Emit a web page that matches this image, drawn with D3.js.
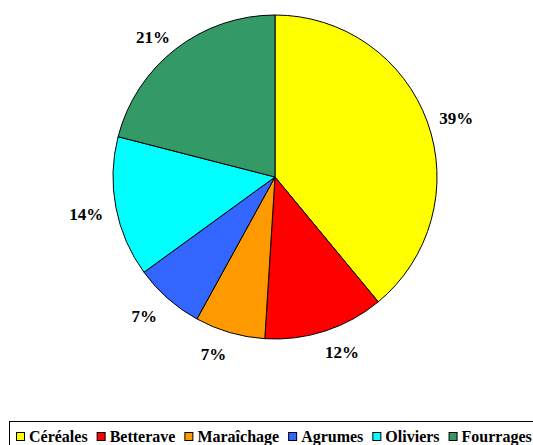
<!DOCTYPE html>
<html>
<head>
<meta charset="utf-8">
<script src="https://cdn.jsdelivr.net/npm/d3@7"></script>
<style>
  html, body { margin: 0; padding: 0; background: #fff; }
  svg { display: block; }
</style>
</head>
<body>
<svg id="chart" width="533" height="445"></svg>
<script>
// Répartition des superficies par culture (%)
const categories = ["Céréales", "Betterave", "Maraîchage", "Agrumes", "Oliviers", "Fourrages"];
const values = [39, 12, 7, 7, 14, 21];
const colors = ["#FFFF00", "#FF0000", "#FF9900", "#3366FF", "#00FFFF", "#339966"];

const svg = d3.select("#chart");
const cx = 275, cy = 177, radius = 162;
const labelRadius = 181, labelShiftX = 11, labelShiftY = 3;
const font = "Liberation Serif";

const data = categories.map((c, i) => ({ name: c, value: values[i], color: colors[i] }));

const pie = d3.pie().value(d => d.value).sort(null);
const arc = d3.arc().innerRadius(0).outerRadius(radius);
const labelArc = d3.arc().innerRadius(labelRadius).outerRadius(labelRadius);

const g = svg.append("g").attr("transform", `translate(${cx},${cy})`);
const arcs = pie(data);

g.selectAll("path.slice")
  .data(arcs)
  .join("path")
  .attr("class", "slice")
  .attr("d", arc)
  .attr("fill", d => d.data.color)
  .attr("stroke", "#000")
  .attr("stroke-width", 1);

// Étiquettes à l'extérieur, écartées horizontalement du côté de la tranche
g.selectAll("text.pct")
  .data(arcs)
  .join("text")
  .attr("class", "pct")
  .attr("transform", d => {
    const [px, py] = labelArc.centroid(d);
    const side = Math.sign(px) || 1;
    return `translate(${px + side * labelShiftX},${py + labelShiftY})`;
  })
  .attr("text-anchor", "middle")
  .attr("dy", "0.34em")
  .attr("font-family", font)
  .attr("font-weight", "bold")
  .attr("font-size", 17)
  .text(d => d.data.value + "%");

// Légende
const legend = svg.append("g");
legend.append("rect")
  .attr("x", 9.5).attr("y", 421.5)
  .attr("width", 540).attr("height", 40)
  .attr("fill", "#fff").attr("stroke", "#000").attr("stroke-width", 1);

let x = 16;
data.forEach(d => {
  legend.append("rect")
    .attr("x", x + 0.5).attr("y", 432.5)
    .attr("width", 8).attr("height", 8)
    .attr("fill", d.color).attr("stroke", "#000").attr("stroke-width", 1);
  const t = legend.append("text")
    .attr("x", x + 13).attr("y", 441.5)
    .attr("font-family", font)
    .attr("font-weight", "bold")
    .attr("font-size", 16)
    .text(d.name);
  x += 13 + t.node().getComputedTextLength() + 9;
});
</script>
</body>
</html>
